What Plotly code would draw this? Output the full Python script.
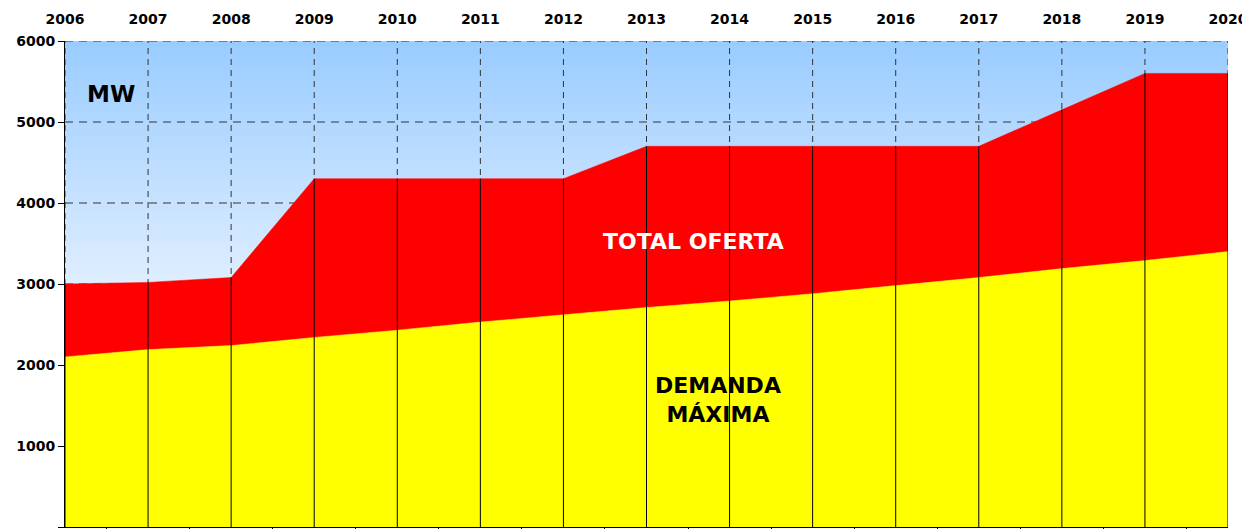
import plotly.graph_objects as go

years = list(range(2006, 2021))
total_oferta = [3000, 3020, 3080, 4300, 4300, 4300, 4300, 4700, 4700, 4700, 4700, 4700, 5150, 5600, 5600]
demanda_maxima = [2100, 2190, 2240, 2340, 2430, 2530, 2620, 2710, 2790, 2880, 2980, 3080, 3190, 3290, 3400]
y_ticks = [0, 1000, 2000, 3000, 4000, 5000, 6000]

FONT = "DejaVu Sans"
x0, x1 = years[0], years[-1]
y0, y1 = y_ticks[0], y_ticks[-1]

fig = go.Figure()

# gradient background of plot area
fig.add_trace(go.Scatter(
    x=[x0, x1, x1, x0, x0], y=[y0, y0, y1, y1, y0],
    mode="lines", line=dict(width=0), fill="toself",
    fillgradient=dict(type="vertical", start=y0, stop=y1,
                      colorscale=[[0, "#FFFFFF"], [0.35, "#F4F8FF"], [1, "#99CCFF"]]),
    hoverinfo="skip", showlegend=False))

# dashed gridlines (horizontal)
gx, gy = [], []
for t in y_ticks:
    gx += [x0, x1, None]
    gy += [t, t, None]
fig.add_trace(go.Scatter(x=gx, y=gy, mode="lines",
                         line=dict(color="#333333", width=1, dash="8px,6px"),
                         hoverinfo="skip", showlegend=False))
# dashed gridlines (vertical)
vx, vy = [], []
for yr in years:
    vx += [yr, yr, None]
    vy += [y0, y1, None]
fig.add_trace(go.Scatter(x=vx, y=vy, mode="lines",
                         line=dict(color="#333333", width=1, dash="6px,5px"),
                         hoverinfo="skip", showlegend=False))

# areas
fig.add_trace(go.Scatter(x=years, y=demanda_maxima, mode="lines",
                         line=dict(width=0.5, color="#FFFF00"), fill="tozeroy",
                         fillcolor="#FFFF00", name="Demanda máxima", showlegend=False))
fig.add_trace(go.Scatter(x=years, y=total_oferta, mode="lines",
                         line=dict(width=0.5, color="#FF0000"), fill="tonexty",
                         fillcolor="#FF0000", name="Total oferta", showlegend=False))

# solid drop lines
dx, dy = [], []
for yr, v in zip(years, total_oferta):
    dx += [yr, yr, None]
    dy += [y0, v, None]
fig.add_trace(go.Scatter(x=dx, y=dy, mode="lines",
                         line=dict(color="#000000", width=1),
                         hoverinfo="skip", showlegend=False))

# dummy trace for bottom axis
fig.add_trace(go.Scatter(x=[x0, x1], y=[y0, y0], xaxis="x2", mode="lines",
                         line=dict(width=0), hoverinfo="skip", showlegend=False))

fig.add_annotation(x=2006.55, y=5350, text="<b>MW</b>", showarrow=False,
                   font=dict(family=FONT, size=23, color="#000000"))
fig.add_annotation(x=2013.57, y=3530, text="<b>TOTAL OFERTA</b>", showarrow=False,
                   font=dict(family=FONT, size=22, color="#FFFFFF"))
fig.add_annotation(x=2013.86, y=1570, text="<b>DEMANDA<br>MÁXIMA</b>", showarrow=False,
                   font=dict(family=FONT, size=22, color="#000000"))

# page body has an 8px margin: size the figure so the plot area lands where the reference has it
fig.update_layout(
    width=1242, height=521,
    margin=dict(l=57, r=22, t=33, b=2, autoexpand=False),
    paper_bgcolor="#FFFFFF", plot_bgcolor="#FFFFFF",
    showlegend=False,
    xaxis=dict(range=[x0, x1], side="top", tickvals=years, ticktext=[str(y) for y in years],
               showgrid=False, zeroline=False, showline=False, ticks="",
               ticklabelstandoff=13, automargin=False,
               tickfont=dict(family=FONT, size=14, color="#000000", weight="bold"),
               fixedrange=True),
    xaxis2=dict(range=[x0, x1], overlaying="x", side="bottom", anchor="y",
                tickvals=[y + 0.5 for y in years[:-1]], ticks="outside", ticklen=5,
                tickcolor="#000000", showticklabels=False, showgrid=False,
                zeroline=False, showline=True, linecolor="#000000", linewidth=1,
                automargin=False),
    yaxis=dict(range=[y0, y1], tickvals=y_ticks, ticks="outside", ticklen=6,
               tickcolor="#000000", showgrid=False, zeroline=False,
               showline=True, linecolor="#000000", linewidth=1, automargin=False,
               tickfont=dict(family=FONT, size=14, color="#000000", weight="bold"),
               fixedrange=True),
)

fig.write_html("out.html")
